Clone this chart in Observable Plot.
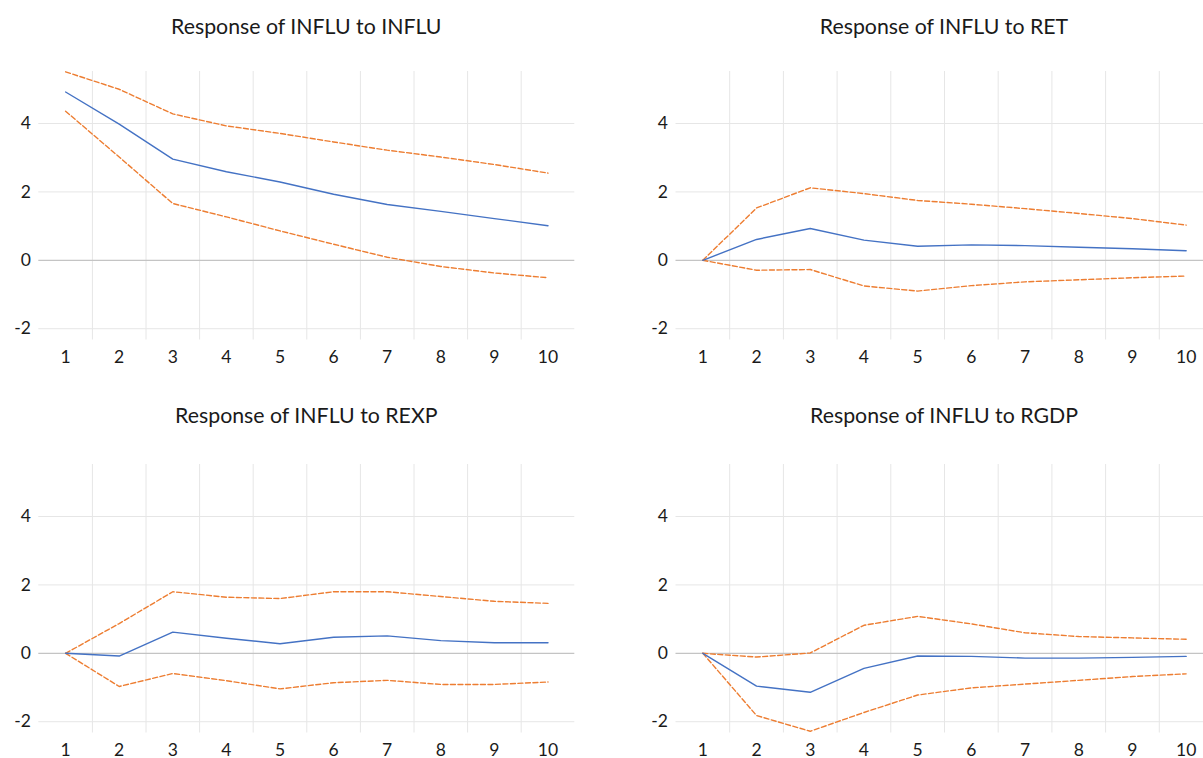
<!DOCTYPE html>
<html>
<head>
<meta charset="utf-8">
<script src="https://cdn.jsdelivr.net/npm/d3@7"></script>
<script src="https://cdn.jsdelivr.net/npm/@observablehq/plot@0.6"></script>
<style>
  html, body { margin: 0; padding: 0; background: #fff; width: 1203px; height: 758px; overflow: hidden; }
  #root { position: relative; width: 1203px; height: 758px; }
  .panel { position: absolute; }
  .title { position: absolute; font-family: Lato, "Open Sans", sans-serif; font-size: 21.3px; color: #1a1a1a; text-align: center; width: 500px; white-space: nowrap; }
</style>
</head>
<body>
<div id="root"></div>
<script>
const periods = [1, 2, 3, 4, 5, 6, 7, 8, 9, 10];
const yTicks = [-2, 0, 2, 4];
const titles = [
  "Response of INFLU to INFLU",
  "Response of INFLU to RET",
  "Response of INFLU to REXP",
  "Response of INFLU to RGDP"
];

// Response of INFLU to INFLU
const influResp  = [4.92, 3.98, 2.96, 2.59, 2.29, 1.93, 1.63, 1.43, 1.22, 1.01];
const influUpper = [5.51, 5.00, 4.28, 3.93, 3.71, 3.46, 3.22, 3.02, 2.80, 2.55];
const influLower = [4.36, 3.02, 1.66, 1.27, 0.86, 0.47, 0.09, -0.18, -0.37, -0.51];

// Response of INFLU to RET
const retResp  = [0, 0.61, 0.93, 0.59, 0.41, 0.45, 0.43, 0.38, 0.34, 0.28];
const retUpper = [0, 1.53, 2.12, 1.95, 1.75, 1.64, 1.51, 1.37, 1.22, 1.03];
const retLower = [0, -0.29, -0.27, -0.75, -0.90, -0.74, -0.63, -0.57, -0.51, -0.46];

// Response of INFLU to REXP
const rexpResp  = [0, -0.08, 0.62, 0.44, 0.28, 0.47, 0.51, 0.37, 0.31, 0.31];
const rexpUpper = [0, 0.87, 1.80, 1.64, 1.60, 1.80, 1.80, 1.66, 1.52, 1.46];
const rexpLower = [0, -0.97, -0.59, -0.80, -1.04, -0.86, -0.79, -0.91, -0.91, -0.84];

// Response of INFLU to RGDP
const rgdpResp  = [0, -0.96, -1.14, -0.44, -0.08, -0.09, -0.14, -0.14, -0.12, -0.09];
const rgdpUpper = [0, -0.11, 0.01, 0.82, 1.08, 0.86, 0.60, 0.49, 0.45, 0.41];
const rgdpLower = [0, -1.82, -2.28, -1.73, -1.22, -1.01, -0.90, -0.79, -0.68, -0.60];

const panels = [
  {title: titles[0], resp: influResp, upper: influUpper, lower: influLower, left: 0,   top: 0,     width: 601, mL: 38.3, mR: 26.7, ty: 13},
  {title: titles[1], resp: retResp,   upper: retUpper,   lower: retLower,   left: 600, top: 0,     width: 640, mL: 75.5, mR: 27.5, ty: 13},
  {title: titles[2], resp: rexpResp,  upper: rexpUpper,  lower: rexpLower,  left: 0,   top: 392.5, width: 601, mL: 38.3, mR: 26.7, ty: 402},
  {title: titles[3], resp: rgdpResp,  upper: rgdpUpper,  lower: rgdpLower,  left: 600, top: 392.5, width: 640, mL: 75.5, mR: 27.5, ty: 402}
];

const yDomain = [-2.33, 5.52];
const vGrid = periods.slice(0, -1).map(p => p + 0.5);
const root = document.getElementById("root");

for (const p of panels) {
  const rows = (arr) => periods.map((t, i) => ({t, v: arr[i]}));
  const chart = Plot.plot({
    width: p.width,
    height: 379,
    marginLeft: p.mL,
    marginRight: p.mR,
    marginTop: 71,
    marginBottom: 39.5,
    style: {fontFamily: "Lato, 'Open Sans', sans-serif", fontSize: "17.5px", color: "#1a1a1a", background: "transparent"},
    x: {domain: [0.5, 10.5], axis: null},
    y: {domain: yDomain, axis: null},
    marks: [
      Plot.ruleX(vGrid, {y1: yDomain[0], y2: yDomain[1], stroke: "#e6e6e6", strokeWidth: 1}),
      Plot.ruleY(yTicks.filter(d => d !== 0), {x1: 0.5, x2: 10.5, stroke: "#e6e6e6", strokeWidth: 1}),
      Plot.ruleY([0], {x1: 0.5, x2: 10.5, stroke: "#c4c4c4", strokeWidth: 1.3}),
      Plot.line(rows(p.upper), {x: "t", y: "v", stroke: "#ED7D31", strokeWidth: 1.4, strokeDasharray: "5,2.5"}),
      Plot.line(rows(p.lower), {x: "t", y: "v", stroke: "#ED7D31", strokeWidth: 1.4, strokeDasharray: "5,2.5"}),
      Plot.line(rows(p.resp), {x: "t", y: "v", stroke: "#4472C4", strokeWidth: 1.4}),
      Plot.axisX(periods, {tickSize: 0, tickPadding: 11, label: null, tickFormat: d => String(d), fill: "#1a1a1a"}),
      Plot.axisY(yTicks, {tickSize: 0, tickPadding: 8, label: null, tickFormat: d => String(d), fill: "#1a1a1a"})
    ]
  });
  chart.classList.add("panel");
  chart.style.left = p.left + "px";
  chart.style.top = p.top + "px";
  root.appendChild(chart);

  const t = document.createElement("div");
  t.className = "title";
  t.textContent = p.title;
  const cx = p.left + p.mL + (p.width - p.mL - p.mR) / 2;
  t.style.left = (cx - 250) + "px";
  t.style.top = p.ty + "px";
  root.appendChild(t);
}
</script>
</body>
</html>
